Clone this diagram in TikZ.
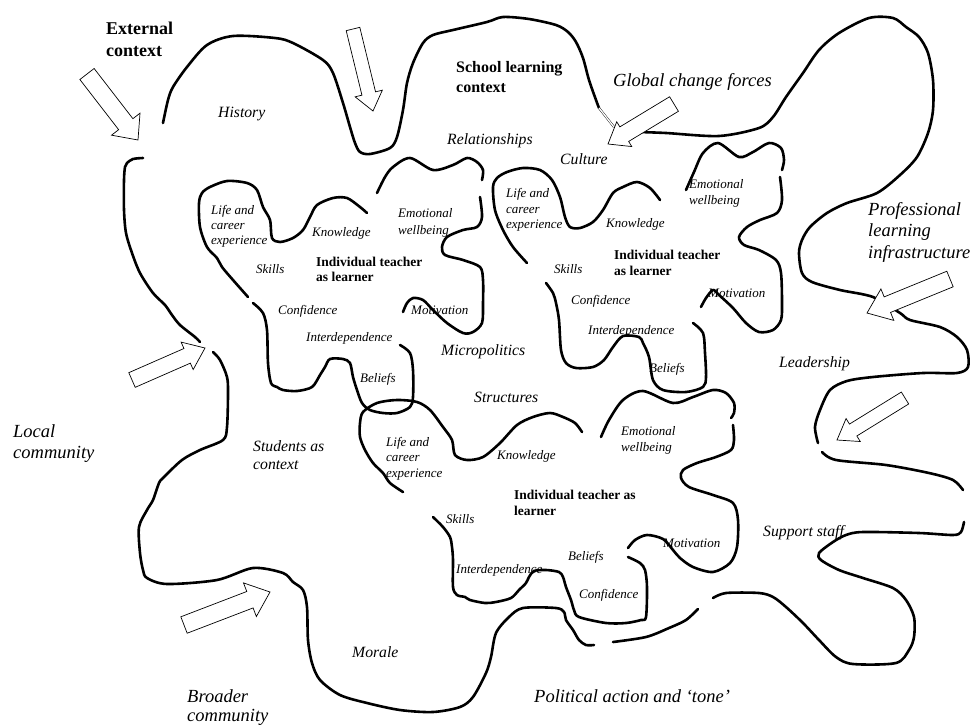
\documentclass[tikz,border=0pt]{standalone}
\usepackage{fontspec}
\setmainfont{Liberation Serif}
\usetikzlibrary{calc}
\tikzset{
 curve/.style={line width=2.6pt, line cap=round, line join=round},
 arrowbox/.style={draw=black, fill=white, line width=0.7pt, line join=miter},
 sm/.style={anchor=base west, inner sep=0pt, font=\fontsize{13}{15}\selectfont\itshape},
 bd/.style={anchor=base west, inner sep=0pt, font=\fontsize{13.5}{16}\selectfont\bfseries},
 md/.style={anchor=base west, inner sep=0pt, font=\fontsize{15.7}{18}\selectfont\itshape},
 lg/.style={anchor=base west, inner sep=0pt, font=\fontsize{18.5}{21}\selectfont\itshape},
 ttlA/.style={anchor=base west, inner sep=0pt, font=\fontsize{18}{22}\selectfont\bfseries},
 ttlB/.style={anchor=base west, inner sep=0pt, font=\fontsize{16}{20}\selectfont\bfseries},
}
\newcommand\blockarr[4]{%
 \coordinate (#1c) at ($(#1h)!#4!(#1t)$);
 \draw[arrowbox] ($(#1t)!#2!90:(#1h)$) -- ($(#1c)!#2!90:(#1h)$) -- ($(#1c)!#3!90:(#1h)$) -- (#1h) -- ($(#1c)!#3!-90:(#1h)$) -- ($(#1c)!#2!-90:(#1h)$) -- ($(#1t)!#2!-90:(#1h)$) -- cycle;}
\begin{document}
\begin{tikzpicture}[x=1pt,y=-1pt]
\fill[white] (0,0) rectangle (972,724);
\useasboundingbox (0,0) rectangle (972,724);
% ---------- outer boundary ----------
\draw[curve] plot[smooth,tension=0.5] coordinates {(163,123) (168,100) (173,87) (187,67) (207,45) (233,36) (275,38) (293,43) (323,60) (333,73) (343,103) (350,127) (355,143) (360,152) (370,154) (390,148) (397,137) (403,110) (407,83) (413,63) (423,43) (433,35) (453,30) (487,22) (503,17) (529,19) (556,25) (568,32) (576,42) (583,58) (589,80) (596,100) (599,108)};
\draw[line width=0.4pt, double, double distance=1.3pt] (599,108) -- (614,127);
\draw[curve] plot[smooth,tension=0.5] coordinates {(639,132) (666,133) (719,136) (759,128) (773,117) (786,97) (803,73) (819,50) (839,33) (869,18) (893,18) (906,27) (919,37) (928,53) (933,80) (933,110) (928,133) (917,157) (900,175) (877,193) (847,203) (827,213) (810,227) (802,240) (799,253) (802,273) (812,282) (840,290) (873,297) (900,313) (910,320) (940,327) (957,337) (967,350) (968,367) (957,373) (923,373) (873,377) (847,381) (830,390) (820,410) (815,427) (818,443)};
\draw[curve] plot[smooth,tension=0.5] coordinates {(822,452) (836,460) (886,465) (929,473) (953,480) (963,490)};
\draw[curve] plot[smooth,tension=0.5] coordinates {(964,522) (961,532) (953,535) (919,533) (863,532) (846,535) (833,542) (819,553) (821,560) (839,570) (863,578) (893,588) (906,600) (914,617) (914,637) (909,650) (896,663) (853,664) (836,657) (819,640) (803,623) (786,607) (773,597) (759,593) (726,593) (713,598)};
\draw[curve] plot[smooth,tension=0.5] coordinates {(698,609) (686,620) (669,628) (646,637) (613,642)};
\draw[curve] plot[smooth,tension=0.5] coordinates {(594,645) (586,645) (579,640) (573,630) (566,620) (564,612) (556,608) (523,608) (509,617) (496,633) (491,657) (486,673) (473,697) (460,707) (433,712) (400,710) (367,703) (340,695) (320,680) (312,663) (308,640) (307,607) (303,590) (293,582) (283,573) (253,568) (217,580) (167,584) (147,578) (143,570) (140,553) (139,527) (147,510) (153,500) (159,483) (163,478) (182,460) (200,450) (223,440) (227,427) (228,393) (227,377) (220,360) (213,352)};
\draw[curve] plot[smooth,tension=0.5] coordinates {(200,342) (195,337) (180,325) (172,315) (165,305) (153,293) (140,273) (132,253) (126,233) (124,210) (124,180) (125,167) (127,163) (133,159) (143,158)};
% ---------- teacher blob 1 ----------
\draw[curve] plot[smooth,tension=0.5] coordinates {(248,297) (233,280) (222,267) (217,258) (207,247) (200,227) (199,203) (202,193) (210,187) (227,181) (247,183) (257,190) (263,207) (270,220) (272,238) (280,242) (293,238) (303,230) (310,217) (317,205) (333,198) (347,198) (360,207) (367,213)};
\draw[curve] plot[smooth,tension=0.5] coordinates {(377,193) (385,177) (393,167) (410,158) (433,170) (453,165) (467,158) (477,162) (483,170) (482,180)};
\draw[curve] plot[smooth,tension=0.5] coordinates {(480,197) (482,217) (477,227) (463,230) (447,237) (442,247) (445,255) (463,260) (480,267) (483,280) (483,303) (482,323) (473,332) (463,333) (447,323) (433,310) (423,300) (413,298) (407,303) (403,312)};
\draw[curve] plot[smooth,tension=0.5] coordinates {(400,345) (410,353) (413,370) (413,397) (410,407) (397,413) (383,413) (370,410) (362,403) (357,390) (353,377) (350,363) (343,359) (330,359) (325,367) (320,375) (312,387) (297,391) (283,390) (277,387) (271,383) (268,363) (267,330) (263,313) (253,303)};
% ---------- teacher blob 2 ----------
\draw[curve] plot[smooth,tension=0.5] coordinates {(527,263) (513,247) (503,230) (495,210) (493,187) (497,178) (507,172) (523,168) (540,170) (552,180) (560,197) (565,217) (570,227) (580,228) (593,222) (603,210) (613,193) (623,187) (637,182) (650,188) (660,200)};
\draw[curve] plot[smooth,tension=0.5] coordinates {(686,190) (694,172) (703,153) (718,143) (739,157) (753,152) (769,143) (781,148) (784,160) (782,170)};
\draw[curve] plot[smooth,tension=0.5] coordinates {(780,177) (782,200) (777,213) (760,220) (747,227) (739,237) (744,245) (759,250) (776,260) (781,273) (782,303) (781,320) (773,330) (759,332) (746,323) (733,308) (719,295) (713,290) (706,298) (701,307)};
\draw[curve] plot[smooth,tension=0.5] coordinates {(693,323) (703,333) (705,353) (706,377) (703,387) (686,392) (663,390) (653,380) (649,357) (643,343) (639,337) (623,336) (613,347) (604,360) (593,367) (576,368) (566,363) (561,350) (559,320) (556,303) (553,293) (546,283)};
% ---------- teacher blob 3 ----------
\draw[curve] plot[smooth,tension=0.5] coordinates {(403,492) (390,483) (383,473) (373,463) (365,450) (360,437) (360,423) (363,412) (377,403) (397,400) (417,402) (430,410) (443,427) (452,440) (455,455) (467,460) (483,457) (500,443) (517,425) (533,417) (550,413) (563,417) (575,423) (582,432)};
\draw[curve] plot[smooth,tension=0.5] coordinates {(601,437) (609,420) (623,400) (643,391) (673,403) (693,397) (713,390) (726,393) (734,403) (734,413) (731,418)};
\draw[curve] plot[smooth,tension=0.5] coordinates {(733,425) (734,440) (731,450) (716,457) (697,463) (683,470) (681,478) (689,487) (713,495) (733,503) (738,520) (737,547) (730,563) (713,572) (693,567) (680,558) (673,550) (663,539) (647,535) (635,540) (628,548)};
\draw[curve] plot[smooth,tension=0.5] coordinates {(628,557) (640,563) (645,570) (647,587) (646,617) (641,620) (626,623) (606,623) (579,617) (574,610) (571,600) (566,587) (563,577) (559,572) (546,570) (534,571) (529,577) (526,583) (519,590) (511,598) (496,602) (485,603) (470,600) (465,597) (457,595) (453,587) (453,560) (452,547) (450,537) (443,527) (433,517)};
% ---------- arrows ----------
\coordinate (a1t) at (87,74);   \coordinate (a1h) at (138,140); \blockarr{a1}{9pt}{18pt}{20pt}
\coordinate (a2t) at (353,29);  \coordinate (a2h) at (373,111); \blockarr{a2}{7pt}{14pt}{18pt}
\coordinate (a3t) at (674,104); \coordinate (a3h) at (608,144); \blockarr{a3}{8.5pt}{14.5pt}{19pt}
\coordinate (a4t) at (950,279); \coordinate (a4h) at (867,313); \blockarr{a4}{8.4pt}{17pt}{22pt}
\coordinate (a5t) at (905,398); \coordinate (a5h) at (837,440); \blockarr{a5}{7pt}{13.5pt}{19pt}
\coordinate (a6t) at (132,380); \coordinate (a6h) at (205,348); \blockarr{a6}{8pt}{15pt}{19.5pt}
\coordinate (a7t) at (184,625); \coordinate (a7h) at (270,592); \blockarr{a7}{8.8pt}{18pt}{21.5pt}
% ---------- titles ----------
\node[ttlA] (ext1) at (106,34) {External};
\node[ttlA] (ext2) at (106,56) {context};
\node[ttlB] (sch1) at (456,72) {School learning};
\node[ttlB] (sch2) at (456,92) {context};
% ---------- medium labels ----------
\node[md] (hist) at (218,117) {History};
\node[md] (rel) at (447,144) {Relationships};
\node[md] (cult) at (560,164) {Culture};
\node[md] (micro) at (441,355) {Micropolitics};
\node[md] (struc) at (474,402) {Structures};
\node[md] (stu1) at (253,451) {Students as};
\node[md] (stu2) at (253,469) {context};
\node[md] (mor) at (352,657) {Morale};
\node[md] (lead) at (779,367) {Leadership};
\node[md] (supp) at (763,536) {Support staff};
% ---------- large labels ----------
\node[lg] (glob) at (613,86) {Global change forces};
\node[lg] (loc1) at (13,437) {Local};
\node[lg] (loc2) at (13,458) {community};
\node[lg] (pro1) at (868,215) {Professional};
\node[lg] (pro2) at (868,236) {learning};
\node[lg] (pro3) at (868,258) {infrastructure};
\node[lg] (bro1) at (187,702) {Broader};
\node[lg] (bro2) at (187,721) {community};
\node[lg] (pol) at (534,702) {Political action and ‘tone’};
% ---------- blob 1 labels ----------
\node[sm] (b1l1) at (211,214) {Life and};
\node[sm] (b1l2) at (211,229) {career};
\node[sm] (b1l3) at (211,244) {experience};
\node[sm] (b1k) at (312,236) {Knowledge};
\node[sm] (b1e1) at (398,217) {Emotional};
\node[sm] (b1e2) at (398,234) {wellbeing};
\node[bd] (b1i1) at (316,266) {Individual teacher};
\node[bd] (b1i2) at (316,281) {as learner};
\node[sm] (b1s) at (256,273) {Skills};
\node[sm] (b1c) at (278,314) {Confidence};
\node[sm] (b1d) at (306,341) {Interdependence};
\node[sm] (b1m) at (411,314) {Motivation};
\node[sm] (b1b) at (360,382) {Beliefs};
% ---------- blob 2 labels ----------
\node[sm] (b2l1) at (506,197) {Life and};
\node[sm] (b2l2) at (506,213) {career};
\node[sm] (b2l3) at (506,228) {experience};
\node[sm] (b2k) at (606,227) {Knowledge};
\node[sm] (b2e1) at (689,188) {Emotional};
\node[sm] (b2e2) at (689,204) {wellbeing};
\node[bd] (b2i1) at (614,259) {Individual teacher};
\node[bd] (b2i2) at (614,275) {as learner};
\node[sm] (b2s) at (554,273) {Skills};
\node[sm] (b2c) at (571,304) {Confidence};
\node[sm] (b2d) at (588,334) {Interdependence};
\node[sm] (b2m) at (708,297) {Motivation};
\node[sm] (b2b) at (649,372) {Beliefs};
% ---------- blob 3 labels ----------
\node[sm] (b3l1) at (386,446) {Life and};
\node[sm] (b3l2) at (386,461) {career};
\node[sm] (b3l3) at (386,477) {experience};
\node[sm] (b3k) at (497,459) {Knowledge};
\node[sm] (b3e1) at (621,435) {Emotional};
\node[sm] (b3e2) at (621,451) {wellbeing};
\node[bd] (b3i1) at (514,499) {Individual teacher as};
\node[bd] (b3i2) at (514,515) {learner};
\node[sm] (b3s) at (446,523) {Skills};
\node[sm] (b3d) at (456,573) {Interdependence};
\node[sm] (b3b) at (568,560) {Beliefs};
\node[sm] (b3c) at (579,598) {Confidence};
\node[sm] (b3m) at (663,547) {Motivation};
\end{tikzpicture}
\end{document}
